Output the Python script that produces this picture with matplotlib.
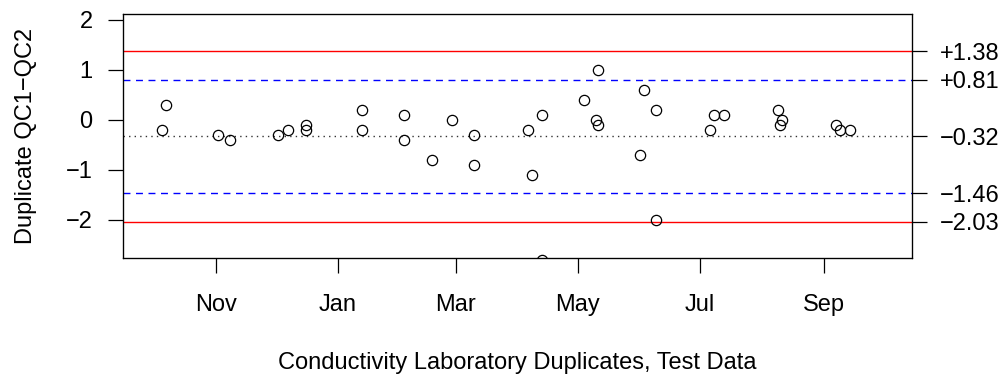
import datetime
import matplotlib
matplotlib.use('Agg')
import matplotlib.pyplot as plt
import matplotlib.dates as mdates

plt.rcParams['font.family'] = ['Liberation Sans', 'DejaVu Sans']

# sample dates and duplicate differences (QC1 - QC2)
dates = ['2010-10-05', '2010-10-07', '2010-11-02', '2010-11-08', '2010-12-02',
         '2010-12-07', '2010-12-16', '2010-12-16', '2011-01-13', '2011-01-13',
         '2011-02-03', '2011-02-03', '2011-02-17', '2011-02-27', '2011-03-10',
         '2011-03-10', '2011-04-06', '2011-04-08', '2011-04-13', '2011-04-13',
         '2011-05-04', '2011-05-10', '2011-05-11', '2011-05-11', '2011-06-01',
         '2011-06-03', '2011-06-09', '2011-06-09', '2011-07-06', '2011-07-08',
         '2011-07-13', '2011-08-09', '2011-08-10', '2011-08-11', '2011-09-07',
         '2011-09-09', '2011-09-14']
diffs = [-0.2, 0.3, -0.3, -0.4, -0.3,
         -0.2, -0.1, -0.2, 0.2, -0.2,
         0.1, -0.4, -0.8, 0.0, -0.3,
         -0.9, -0.2, -1.1, 0.1, -2.8,
         0.4, 0.0, 1.0, -0.1, -0.7,
         0.6, 0.2, -2.0, -0.2, 0.1,
         0.1, 0.2, -0.1, 0.0, -0.1,
         -0.2, -0.2]

# control chart limits
center = -0.32
warn_limits = [0.81, -1.46]
ctrl_limits = [1.38, -2.03]
limit_labels = ['+1.38', '+0.81', '\u22120.32', '\u22121.46', '\u22122.03']

x = [datetime.datetime.strptime(d, '%Y-%m-%d') for d in dates]

fs = 17

fig = plt.figure(figsize=(10.06, 3.74), dpi=100)
ax = fig.add_axes([123 / 1006, 1 - 258 / 374, (912 - 123) / 1006, (258 - 14) / 374])

for v in ctrl_limits:
    ax.axhline(v, color='#ff0000', lw=1.0)
for v in warn_limits:
    ax.axhline(v, color='#0000ff', lw=1.0, dashes=(5, 4))
ax.axhline(center, color='#333333', lw=1.0, dashes=(1, 3))

ax.plot(x, diffs, 'o', mfc='none', mec='black', ms=7.4, mew=0.9)

ax.set_xlim(datetime.datetime(2010, 9, 15, 12), datetime.datetime(2011, 10, 15))
ax.set_ylim(-2.76, 2.12)

ax.xaxis.set_major_locator(mdates.MonthLocator(bymonth=[1, 3, 5, 7, 9, 11]))
ax.xaxis.set_major_formatter(mdates.DateFormatter('%b'))
ax.set_yticks([-2, -1, 0, 1, 2])
ax.set_yticklabels(['\u22122', '\u22121', '0', '1', '2'])

ax.tick_params(axis='both', length=10.8, width=0.9, labelsize=fs, direction='out')
ax.tick_params(axis='y', pad=11)
ax.tick_params(axis='x', pad=15)
for s in ax.spines.values():
    s.set_linewidth(0.9)

ax2 = ax.twinx()
ax2.set_ylim(ax.get_ylim())
ax2.set_yticks(ctrl_limits[:1] + warn_limits[:1] + [center] + warn_limits[1:] + ctrl_limits[1:])
ax2.set_yticklabels(limit_labels)
ax2.tick_params(axis='y', length=10.8, width=0.9, labelsize=fs, pad=9)

ax.set_ylabel('Duplicate QC1\u2212QC2', fontsize=fs, labelpad=21)
ax.set_xlabel('Conductivity Laboratory Duplicates, Test Data', fontsize=fs, labelpad=26)

fig.savefig('out.png', dpi=100)
